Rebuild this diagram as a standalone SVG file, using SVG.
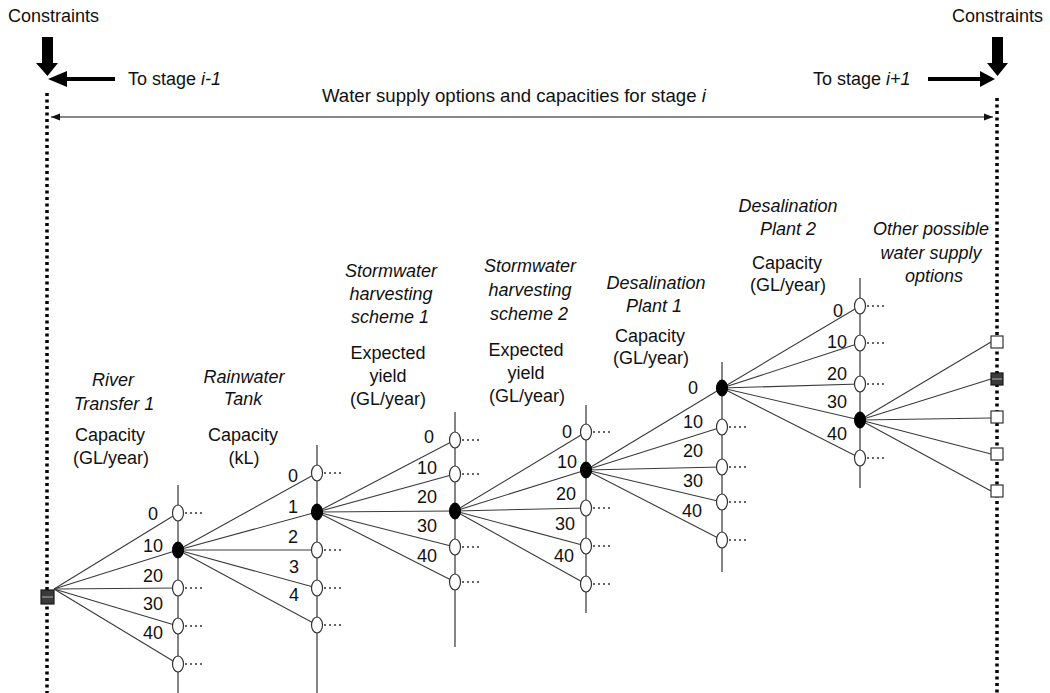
<svg xmlns="http://www.w3.org/2000/svg" width="1050" height="693" viewBox="0 0 1050 693">
<defs>
<style>
.t{font-family:"Liberation Sans",Arial,sans-serif;font-size:18px;fill:#111}
.i{font-style:italic}
.m{text-anchor:middle}
.n{text-anchor:end}
.v{stroke:#333;stroke-width:1.2;fill:none}
.l{stroke:#3a3a3a;stroke-width:1.1;fill:none}
.e{fill:#fff;stroke:#333;stroke-width:1.2}
.f{fill:#000;stroke:#000;stroke-width:1}
.d{stroke:#333;stroke-width:1.5;stroke-dasharray:2 3;fill:none}
.b{stroke:#000;stroke-width:3.5;stroke-dasharray:3 3.5;fill:none}
.sq{fill:#fff;stroke:#333;stroke-width:1.2}
.sd{fill:#3a3a3a;stroke:#1a1a1a;stroke-width:1.2}
</style>
<marker id="ah" markerUnits="userSpaceOnUse" markerWidth="10" markerHeight="8" refX="9" refY="4" orient="auto-start-reverse">
<path d="M0,0.5 L9,4 L0,7.5 Z" fill="#111"/>
</marker>
</defs>
<rect width="1050" height="693" fill="#fff"/>

<g id="boundaries">
<line class="b" x1="47" y1="93" x2="47" y2="693"/>
<line class="b" x1="997" y1="98" x2="997" y2="693"/>
</g>

<g id="constraints-left">
<text class="t" x="8" y="22">Constraints</text>
<path d="M42,37 H53 V63 H58 L47.5,76 L36,63 H42 Z" fill="#000"/>
</g>
<g id="constraints-right">
<text class="t" x="952" y="22">Constraints</text>
<path d="M992,37 H1003 V63 H1008 L997.5,76 L987,63 H992 Z" fill="#000"/>
</g>

<g id="to-stage-prev">
<path d="M115,77 V81 H67 V87 L48,79 L67,71 V77 Z" fill="#000"/>
<text class="t" x="128" y="85">To stage <tspan class="i">i-1</tspan></text>
</g>
<g id="to-stage-next">
<text class="t" x="813" y="85">To stage <tspan class="i">i+1</tspan></text>
<path d="M928,77 V81 H980 V87 L995,79 L980,71 V77 Z" fill="#000"/>
</g>

<g id="stage-span">
<line x1="51" y1="117" x2="993" y2="117" stroke="#111" stroke-width="1" marker-start="url(#ah)" marker-end="url(#ah)"/>
<text class="t" x="322" y="102" style="font-size:18.6px">Water supply options and capacities for stage <tspan class="i">i</tspan></text>
</g>

<g id="headers">
<g id="hdr-river">
<text class="t i m" x="113" y="386">River</text>
<text class="t i m" x="114" y="410">Transfer 1</text>
<text class="t m" x="110" y="441">Capacity</text>
<text class="t m" x="111" y="464">(GL/year)</text>
</g>
<g id="hdr-rain">
<text class="t i m" x="244" y="383">Rainwater</text>
<text class="t i m" x="243" y="405">Tank</text>
<text class="t m" x="243" y="441">Capacity</text>
<text class="t m" x="244" y="464">(kL)</text>
</g>
<g id="hdr-storm1">
<text class="t i m" x="391" y="277">Stormwater</text>
<text class="t i m" x="391" y="300">harvesting</text>
<text class="t i m" x="390" y="323">scheme 1</text>
<text class="t m" x="388" y="359">Expected</text>
<text class="t m" x="388" y="382">yield</text>
<text class="t m" x="388" y="405">(GL/year)</text>
</g>
<g id="hdr-storm2">
<text class="t i m" x="530" y="272">Stormwater</text>
<text class="t i m" x="530" y="296">harvesting</text>
<text class="t i m" x="529" y="320">scheme 2</text>
<text class="t m" x="526" y="356">Expected</text>
<text class="t m" x="526" y="379">yield</text>
<text class="t m" x="527" y="402">(GL/year)</text>
</g>
<g id="hdr-desal1">
<text class="t i m" x="656" y="289">Desalination</text>
<text class="t i m" x="654" y="312">Plant 1</text>
<text class="t m" x="650" y="342">Capacity</text>
<text class="t m" x="651" y="364">(GL/year)</text>
</g>
<g id="hdr-desal2">
<text class="t i m" x="788" y="212">Desalination</text>
<text class="t i m" x="788" y="235">Plant 2</text>
<text class="t m" x="787" y="269">Capacity</text>
<text class="t m" x="788" y="291">(GL/year)</text>
</g>
<g id="hdr-other">
<text class="t i m" x="931" y="235">Other possible</text>
<text class="t i m" x="931" y="259">water supply</text>
<text class="t i m" x="934" y="282">options</text>
</g>
</g>

<g id="axes">
<line class="v" x1="178" y1="485" x2="178" y2="693"/>
<line class="v" x1="317" y1="445" x2="317" y2="693"/>
<line class="v" x1="455" y1="412" x2="455" y2="647"/>
<line class="v" x1="586" y1="405" x2="586" y2="613"/>
<line class="v" x1="722" y1="362" x2="722" y2="572"/>
<line class="v" x1="860" y1="278" x2="860" y2="488"/>
</g>

<g id="connectors">
<line class="l" x1="54" y1="589" x2="178" y2="513"/>
<line class="l" x1="54" y1="589" x2="178" y2="550"/>
<line class="l" x1="54" y1="589" x2="178" y2="588"/>
<line class="l" x1="54" y1="589" x2="178" y2="626"/>
<line class="l" x1="54" y1="589" x2="178" y2="664"/>

<line class="l" x1="178" y1="550" x2="317" y2="473"/>
<line class="l" x1="178" y1="550" x2="317" y2="512"/>
<line class="l" x1="178" y1="550" x2="317" y2="550"/>
<line class="l" x1="178" y1="550" x2="317" y2="588"/>
<line class="l" x1="178" y1="550" x2="317" y2="625"/>

<line class="l" x1="317" y1="512" x2="455" y2="440"/>
<line class="l" x1="317" y1="512" x2="455" y2="474"/>
<line class="l" x1="317" y1="512" x2="455" y2="511"/>
<line class="l" x1="317" y1="512" x2="455" y2="547"/>
<line class="l" x1="317" y1="512" x2="455" y2="582"/>

<line class="l" x1="455" y1="511" x2="586" y2="432"/>
<line class="l" x1="455" y1="511" x2="586" y2="470"/>
<line class="l" x1="455" y1="511" x2="586" y2="508"/>
<line class="l" x1="455" y1="511" x2="586" y2="546"/>
<line class="l" x1="455" y1="511" x2="586" y2="584"/>

<line class="l" x1="586" y1="470" x2="722" y2="388"/>
<line class="l" x1="586" y1="470" x2="722" y2="427"/>
<line class="l" x1="586" y1="470" x2="722" y2="467"/>
<line class="l" x1="586" y1="470" x2="722" y2="502"/>
<line class="l" x1="586" y1="470" x2="722" y2="540"/>

<line class="l" x1="722" y1="388" x2="860" y2="306"/>
<line class="l" x1="722" y1="388" x2="860" y2="343"/>
<line class="l" x1="722" y1="388" x2="860" y2="384"/>
<line class="l" x1="722" y1="388" x2="860" y2="420"/>
<line class="l" x1="722" y1="388" x2="860" y2="458"/>

<line class="l" x1="860" y1="420" x2="991" y2="342"/>
<line class="l" x1="860" y1="420" x2="991" y2="379"/>
<line class="l" x1="860" y1="420" x2="991" y2="418"/>
<line class="l" x1="860" y1="420" x2="991" y2="454"/>
<line class="l" x1="860" y1="420" x2="991" y2="491"/>
</g>

<g id="source">
<rect class="sd" x="41" y="590" width="13" height="14"/>
<line x1="42" y1="597" x2="53" y2="597" stroke="#888" stroke-width="1.5"/>
</g>

<g id="river">
<g id="river-0"><ellipse class="e" cx="178" cy="513" rx="5.5" ry="8"/><line class="d" x1="185" y1="513" x2="205" y2="513"/><text class="t n" x="158" y="520">0</text></g>
<g id="river-10"><ellipse class="f" cx="178" cy="550" rx="5.5" ry="8"/><text class="t n" x="163" y="552">10</text></g>
<g id="river-20"><ellipse class="e" cx="178" cy="588" rx="5.5" ry="8"/><line class="d" x1="185" y1="588" x2="205" y2="588"/><text class="t n" x="163" y="582">20</text></g>
<g id="river-30"><ellipse class="e" cx="178" cy="626" rx="5.5" ry="8"/><line class="d" x1="185" y1="626" x2="205" y2="626"/><text class="t n" x="163" y="610">30</text></g>
<g id="river-40"><ellipse class="e" cx="178" cy="664" rx="5.5" ry="8"/><line class="d" x1="185" y1="664" x2="205" y2="664"/><text class="t n" x="163" y="639">40</text></g>
</g>

<g id="rain">
<g id="rain-0"><ellipse class="e" cx="317" cy="473" rx="5.5" ry="8"/><line class="d" x1="324" y1="473" x2="344" y2="473"/><text class="t n" x="298" y="482">0</text></g>
<g id="rain-1"><ellipse class="f" cx="317" cy="512" rx="5.5" ry="8"/><text class="t n" x="298" y="513">1</text></g>
<g id="rain-2"><ellipse class="e" cx="317" cy="550" rx="5.5" ry="8"/><line class="d" x1="324" y1="550" x2="344" y2="550"/><text class="t n" x="298" y="543">2</text></g>
<g id="rain-3"><ellipse class="e" cx="317" cy="588" rx="5.5" ry="8"/><line class="d" x1="324" y1="588" x2="344" y2="588"/><text class="t n" x="299" y="573">3</text></g>
<g id="rain-4"><ellipse class="e" cx="317" cy="625" rx="5.5" ry="8"/><line class="d" x1="324" y1="625" x2="344" y2="625"/><text class="t n" x="299" y="601">4</text></g>
</g>

<g id="storm1">
<g id="storm1-0"><ellipse class="e" cx="455" cy="440" rx="5.5" ry="8"/><line class="d" x1="462" y1="440" x2="482" y2="440"/><text class="t n" x="434" y="443">0</text></g>
<g id="storm1-10"><ellipse class="e" cx="455" cy="474" rx="5.5" ry="8"/><line class="d" x1="462" y1="474" x2="482" y2="474"/><text class="t n" x="437" y="474">10</text></g>
<g id="storm1-20"><ellipse class="f" cx="455" cy="511" rx="5.5" ry="8"/><text class="t n" x="437" y="503">20</text></g>
<g id="storm1-30"><ellipse class="e" cx="455" cy="547" rx="5.5" ry="8"/><line class="d" x1="462" y1="547" x2="482" y2="547"/><text class="t n" x="437" y="532">30</text></g>
<g id="storm1-40"><ellipse class="e" cx="455" cy="582" rx="5.5" ry="8"/><line class="d" x1="462" y1="582" x2="482" y2="582"/><text class="t n" x="437" y="562">40</text></g>
</g>

<g id="storm2">
<g id="storm2-0"><ellipse class="e" cx="586" cy="432" rx="5.5" ry="8"/><line class="d" x1="593" y1="432" x2="613" y2="432"/><text class="t n" x="572" y="438">0</text></g>
<g id="storm2-10"><ellipse class="f" cx="586" cy="470" rx="5.5" ry="8"/><text class="t n" x="577" y="468">10</text></g>
<g id="storm2-20"><ellipse class="e" cx="586" cy="508" rx="5.5" ry="8"/><line class="d" x1="593" y1="508" x2="613" y2="508"/><text class="t n" x="576" y="500">20</text></g>
<g id="storm2-30"><ellipse class="e" cx="586" cy="546" rx="5.5" ry="8"/><line class="d" x1="593" y1="546" x2="613" y2="546"/><text class="t n" x="575" y="530">30</text></g>
<g id="storm2-40"><ellipse class="e" cx="586" cy="584" rx="5.5" ry="8"/><line class="d" x1="593" y1="584" x2="613" y2="584"/><text class="t n" x="574" y="562">40</text></g>
</g>

<g id="desal1">
<g id="desal1-0"><ellipse class="f" cx="722" cy="388" rx="5.5" ry="8"/><text class="t n" x="698" y="394">0</text></g>
<g id="desal1-10"><ellipse class="e" cx="722" cy="427" rx="5.5" ry="8"/><line class="d" x1="729" y1="427" x2="747" y2="427"/><text class="t n" x="703" y="428">10</text></g>
<g id="desal1-20"><ellipse class="e" cx="722" cy="467" rx="5.5" ry="8"/><line class="d" x1="729" y1="467" x2="747" y2="467"/><text class="t n" x="703" y="457">20</text></g>
<g id="desal1-30"><ellipse class="e" cx="722" cy="502" rx="5.5" ry="8"/><line class="d" x1="729" y1="502" x2="747" y2="502"/><text class="t n" x="703" y="487">30</text></g>
<g id="desal1-40"><ellipse class="e" cx="722" cy="540" rx="5.5" ry="8"/><line class="d" x1="729" y1="540" x2="747" y2="540"/><text class="t n" x="702" y="517">40</text></g>
</g>

<g id="desal2">
<g id="desal2-0"><ellipse class="e" cx="860" cy="306" rx="5.5" ry="8"/><line class="d" x1="867" y1="306" x2="887" y2="306"/><text class="t n" x="843" y="317">0</text></g>
<g id="desal2-10"><ellipse class="e" cx="860" cy="343" rx="5.5" ry="8"/><line class="d" x1="867" y1="343" x2="887" y2="343"/><text class="t n" x="847" y="348">10</text></g>
<g id="desal2-20"><ellipse class="e" cx="860" cy="384" rx="5.5" ry="8"/><line class="d" x1="867" y1="384" x2="887" y2="384"/><text class="t n" x="847" y="380">20</text></g>
<g id="desal2-30"><ellipse class="f" cx="860" cy="420" rx="5.5" ry="8"/><text class="t n" x="847" y="408">30</text></g>
<g id="desal2-40"><ellipse class="e" cx="860" cy="458" rx="5.5" ry="8"/><line class="d" x1="867" y1="458" x2="887" y2="458"/><text class="t n" x="847" y="440">40</text></g>
</g>

<g id="other">
<g id="other-1"><rect class="sq" x="991" y="336" width="12" height="12"/></g>
<g id="other-2"><rect class="sd" x="991" y="373" width="12" height="12"/><line x1="992" y1="379" x2="1002" y2="379" stroke="#888" stroke-width="1.5"/></g>
<g id="other-3"><rect class="sq" x="991" y="411" width="12" height="12"/></g>
<g id="other-4"><rect class="sq" x="991" y="448" width="12" height="12"/></g>
<g id="other-5"><rect class="sq" x="991" y="485" width="12" height="12"/></g>
</g>
</svg>
